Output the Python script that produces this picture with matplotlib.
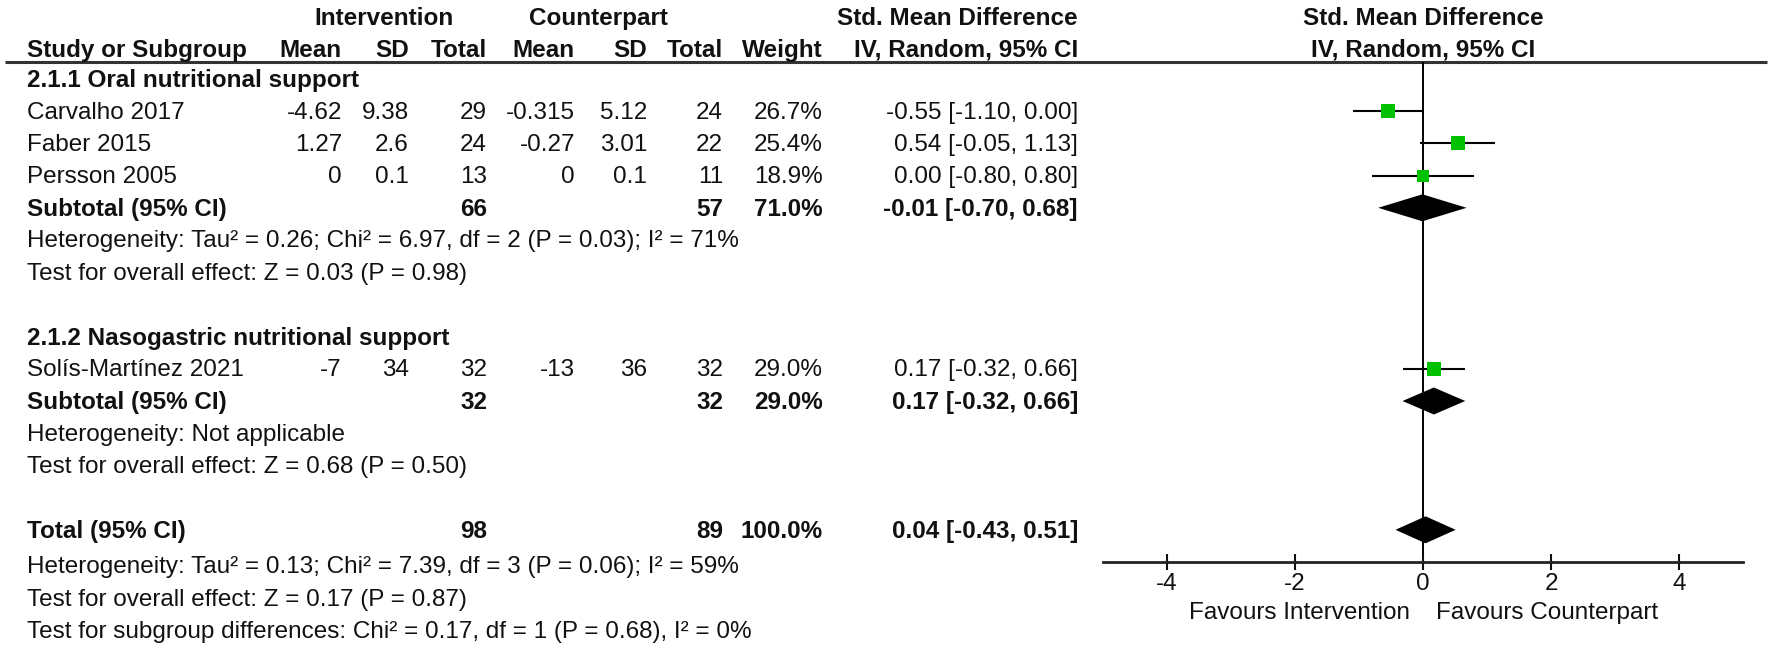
import matplotlib
matplotlib.use("Agg")
import matplotlib.pyplot as plt
import numpy as np

plt.rcParams['font.family'] = ['Liberation Sans', 'DejaVu Sans']
plt.rcParams['axes.unicode_minus'] = False

# ---- data ----
studies = ['Carvalho 2017', 'Faber 2015', 'Persson 2005', 'Solís-Martínez 2021']
study_group = [0, 0, 0, 1]
int_mean = [-4.62, 1.27, 0, -7]
int_sd = [9.38, 2.6, 0.1, 34]
int_n = [29, 24, 13, 32]
cp_mean = [-0.315, -0.27, 0, -13]
cp_sd = [5.12, 3.01, 0.1, 36]
cp_n = [24, 22, 11, 32]
weight = [26.7, 25.4, 18.9, 29.0]
smd = [-0.55, 0.54, 0.00, 0.17]
smd_lo = [-1.10, -0.05, -0.80, -0.32]
smd_hi = [0.00, 1.13, 0.80, 0.66]

groups = ['2.1.1 Oral nutritional support', '2.1.2 Nasogastric nutritional support']
sub_int_n = [66, 32]
sub_cp_n = [57, 32]
sub_weight = [71.0, 29.0]
sub_smd = [-0.01, 0.17]
sub_lo = [-0.70, -0.32]
sub_hi = [0.68, 0.66]
sub_het = ['Heterogeneity: Tau² = 0.26; Chi² = 6.97, df = 2 (P = 0.03); I² = 71%',
           'Heterogeneity: Not applicable']
sub_test = ['Test for overall effect: Z = 0.03 (P = 0.98)',
            'Test for overall effect: Z = 0.68 (P = 0.50)']

tot_int_n, tot_cp_n, tot_weight = 98, 89, 100.0
tot_smd, tot_lo, tot_hi = 0.04, -0.43, 0.51
tot_notes = ['Heterogeneity: Tau² = 0.13; Chi² = 7.39, df = 3 (P = 0.06); I² = 59%',
             'Test for overall effect: Z = 0.17 (P = 0.87)',
             'Test for subgroup differences: Chi² = 0.17, df = 1 (P = 0.68), I² = 0%']

xticks = [-4, -2, 0, 2, 4]
favours = ['Favours Intervention', 'Favours Counterpart']

# ---- layout (pixel units, figure is 1772 x 652) ----
W, H = 1772, 652
FS = 17.5
green = '#00c000'
row0, step = 79.0, 32.2
text_dy = 1.5
col_left = 27
cols = [342, 409, 487, 575, 647, 723, 823, 1078]   # right edges
head1_y, head2_y, line_y, axis_y = 17, 49, 62, 562
fx0, fx1 = 1103, 1743   # forest axis spans -5..5


def row_y(i):
    return row0 + step * i


fig = plt.figure(figsize=(W / 100, H / 100), dpi=100)
ax = fig.add_axes([0, 0, 1, 1])
ax.set_xlim(0, W)
ax.set_ylim(H, 0)
ax.axis('off')

fa = fig.add_axes([fx0 / W, 0, (fx1 - fx0) / W, 1])
fa.set_xlim(-5, 5)
fa.set_ylim(H, 0)
fa.patch.set_visible(False)


def txt(x, y, s, ha='right', bold=False):
    ax.text(x, y + text_dy, s, ha=ha, va='center', fontsize=FS,
            fontweight='bold' if bold else 'normal', color='#111111')


# headers
txt((cols[0] + cols[2]) / 2 - 30, head1_y, 'Intervention', ha='center', bold=True)
txt((cols[3] + cols[5]) / 2 - 51, head1_y, 'Counterpart', ha='center', bold=True)
txt(cols[7], head1_y, 'Std. Mean Difference', bold=True)
txt(col_left, head2_y, 'Study or Subgroup', ha='left', bold=True)
for c, s in zip(cols, ['Mean', 'SD', 'Total', 'Mean', 'SD', 'Total', 'Weight',
                       'IV, Random, 95% CI']):
    txt(c, head2_y, s, bold=True)
fa.text(0, head1_y + text_dy, 'Std. Mean Difference', ha='center', va='center',
        fontsize=FS, fontweight='bold', color='#111111')
fa.text(0, head2_y + text_dy, 'IV, Random, 95% CI', ha='center', va='center',
        fontsize=FS, fontweight='bold', color='#111111')
ax.hlines(line_y, 5, 1767, color='#333333', lw=2.2)


def diamond(y, mid, lo, hi):
    h = 13.5
    fa.fill([lo, mid, hi, mid], [y, y - h, y, y + h], color='black', lw=0)


r = 0
for g in range(len(groups)):
    txt(col_left, row_y(r), groups[g], ha='left', bold=True)
    r += 1
    for i in [k for k in range(len(studies)) if study_group[k] == g]:
        y = row_y(r)
        vals = [f'{int_mean[i]:g}', f'{int_sd[i]:g}', str(int_n[i]),
                f'{cp_mean[i]:g}', f'{cp_sd[i]:g}', str(cp_n[i]),
                f'{weight[i]:.1f}%',
                f'{smd[i]:.2f} [{smd_lo[i]:.2f}, {smd_hi[i]:.2f}]']
        txt(col_left, y, studies[i], ha='left')
        for c, s in zip(cols, vals):
            txt(c, y, s)
        fa.hlines(y, smd_lo[i], smd_hi[i], color='black', lw=1.5, zorder=2)
        fa.scatter([smd[i]], [y], marker='s', s=(2.0 * np.sqrt(weight[i])) ** 2,
                   color=green, lw=0, zorder=3)
        r += 1
    y = row_y(r)
    txt(col_left, y, 'Subtotal (95% CI)', ha='left', bold=True)
    txt(cols[2], y, str(sub_int_n[g]), bold=True)
    txt(cols[5], y, str(sub_cp_n[g]), bold=True)
    txt(cols[6], y, f'{sub_weight[g]:.1f}%', bold=True)
    txt(cols[7], y, f'{sub_smd[g]:.2f} [{sub_lo[g]:.2f}, {sub_hi[g]:.2f}]', bold=True)
    diamond(y, sub_smd[g], sub_lo[g], sub_hi[g])
    r += 1
    txt(col_left, row_y(r), sub_het[g], ha='left')
    r += 1
    txt(col_left, row_y(r), sub_test[g], ha='left')
    r += 2

y = row_y(r)
txt(col_left, y, 'Total (95% CI)', ha='left', bold=True)
txt(cols[2], y, str(tot_int_n), bold=True)
txt(cols[5], y, str(tot_cp_n), bold=True)
txt(cols[6], y, f'{tot_weight:.1f}%', bold=True)
txt(cols[7], y, f'{tot_smd:.2f} [{tot_lo:.2f}, {tot_hi:.2f}]', bold=True)
diamond(y, tot_smd, tot_lo, tot_hi)
for note in tot_notes:
    r += 1
    txt(col_left, row_y(r) + 4, note, ha='left')

# forest axis
fa.vlines(0, line_y, axis_y, color='black', lw=1.4, zorder=1)
for s in ['left', 'right', 'top']:
    fa.spines[s].set_visible(False)
fa.spines['bottom'].set_position(('data', axis_y))
fa.spines['bottom'].set_linewidth(2.0)
fa.spines['bottom'].set_color('#222222')
fa.set_yticks([])
fa.set_xticks(xticks)
fa.set_xticklabels([str(t) for t in xticks])
fa.tick_params(axis='x', direction='inout', length=12, width=1.5,
               labelsize=FS, pad=2, colors='#111111')
fa.text(-0.2, 613, favours[0], ha='right', va='center', fontsize=FS, color='#111111')
fa.text(0.2, 613, favours[1], ha='left', va='center', fontsize=FS, color='#111111')

fig.savefig('out.png', dpi=100)
